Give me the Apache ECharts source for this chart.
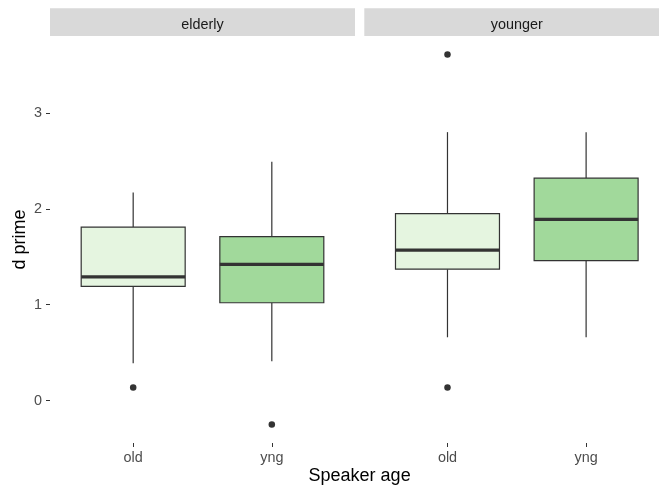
<!DOCTYPE html>
<html>
<head>
<meta charset="utf-8">
<script src="https://cdn.jsdelivr.net/npm/echarts@6/dist/echarts.min.js"></script>
<style>html,body{margin:0;padding:0;background:#fff;}#c{width:659px;height:487px;}</style>
</head>
<body>
<div id="c"></div>
<script>
// ---- data ----
const facets = ['elderly', 'younger'];
const categories = ['old', 'yng'];
// [lower whisker, Q1, median, Q3, upper whisker]
const elderlyStats = [[0.39, 1.19, 1.29, 1.81, 2.17], [0.41, 1.02, 1.42, 1.71, 2.49]];
const youngerStats = [[0.66, 1.37, 1.57, 1.95, 2.80], [0.66, 1.46, 1.89, 2.32, 2.80]];
// outliers: [category index, value]
const elderlyOutliers = [[0, 0.136], [1, -0.25]];
const youngerOutliers = [[0, 3.61], [0, 0.136]];
const yTicks = [0, 1, 2, 3];
const fills = ['#E5F5E0', '#A1D99B'];

const stats = [elderlyStats, youngerStats];
const outliers = [elderlyOutliers, youngerOutliers];

const FONT = 'Liberation Sans, Arial, Helvetica, sans-serif';
const CANVAS_W = 659;
const fullW = 305;          // full facet panel width (right one is cut off by the image edge)
const panels = [{left: 50, width: fullW}, {left: 364.3, width: CANVAS_W - 364.3}];
const gridTop = 36, gridHeight = 407;
const yMin = -0.443, yMax = 3.803;
const xMin = 0.4, xSpan = 2.2;

const chart = echarts.init(document.getElementById('c'), null, {renderer: 'canvas'});

const grids = panels.map(p => ({left: p.left, width: p.width, top: gridTop, height: gridHeight, containLabel: false}));
const xAxes = panels.map((p, i) => ({
  type: 'value', gridIndex: i, min: xMin, max: xMin + xSpan * p.width / fullW,
  axisLine: {show: false, onZero: false}, splitLine: {show: false},
  axisTick: {show: true, customValues: [1, 2], length: 4, lineStyle: {color: '#333333', width: 1}},
  axisLabel: {show: true, customValues: [1, 2], margin: 8, color: '#4D4D4D', fontSize: 14.4, fontFamily: FONT,
    formatter: v => categories[Math.round(v) - 1] || ''}
}));
const yAxes = panels.map((p, i) => ({
  type: 'value', gridIndex: i, min: yMin, max: yMax,
  axisLine: {show: false, onZero: false}, splitLine: {show: false},
  axisTick: {show: i === 0, customValues: yTicks, length: 4, lineStyle: {color: '#333333', width: 1}},
  axisLabel: {show: i === 0, customValues: yTicks, margin: 8, color: '#4D4D4D', fontSize: 14.4, fontFamily: FONT},
  name: i === 0 ? 'd prime' : '', nameLocation: 'middle', nameGap: 21,
  nameTextStyle: {color: '#000', fontSize: 18, fontFamily: FONT}
}));

function renderBox(params, api) {
  const x = api.value(0);
  const ci = api.value(6);
  const lo = api.coord([x, api.value(1)]);
  const q1 = api.coord([x, api.value(2)]);
  const md = api.coord([x, api.value(3)]);
  const q3 = api.coord([x, api.value(4)]);
  const hi = api.coord([x, api.value(5)]);
  const half = api.size([0.75, 0])[0] / 2;
  const cx = lo[0];
  const stroke = '#333333';
  return {
    type: 'group',
    children: [
      {type: 'line', shape: {x1: cx, y1: hi[1], x2: cx, y2: q3[1]}, style: {stroke: stroke, lineWidth: 1.2}},
      {type: 'line', shape: {x1: cx, y1: q1[1], x2: cx, y2: lo[1]}, style: {stroke: stroke, lineWidth: 1.2}},
      {type: 'rect', shape: {x: cx - half, y: q3[1], width: half * 2, height: q1[1] - q3[1]},
        style: {fill: fills[ci], stroke: stroke, lineWidth: 1.2}},
      {type: 'line', shape: {x1: cx - half, y1: md[1], x2: cx + half, y2: md[1]}, style: {stroke: stroke, lineWidth: 3.2}}
    ]
  };
}

const series = [];
stats.forEach((st, i) => {
  series.push({
    type: 'custom', xAxisIndex: i, yAxisIndex: i,
    renderItem: renderBox,
    encode: {x: 0, y: [1, 2, 3, 4, 5]},
    data: st.map((s, ci) => [ci + 1, s[0], s[1], s[2], s[3], s[4], ci]),
    silent: true
  });
  series.push({
    type: 'scatter', xAxisIndex: i, yAxisIndex: i,
    symbolSize: 6.5, itemStyle: {color: '#333333', opacity: 1},
    data: outliers[i].map(o => [o[0] + 1, o[1]]),
    silent: true
  });
});

const graphic = [];
panels.forEach((p, i) => {
  graphic.push({type: 'rect', shape: {x: p.left, y: 8.3, width: fullW, height: 27.7}, style: {fill: '#D9D9D9'}, silent: true});
  graphic.push({type: 'text', x: p.left + fullW / 2, y: 25,
    style: {text: facets[i], fill: '#1A1A1A', font: '14.4px ' + FONT, align: 'center', verticalAlign: 'middle'}, silent: true});
});
graphic.push({type: 'text', x: 359.6, y: 476,
  style: {text: 'Speaker age', fill: '#000', font: '18px ' + FONT, align: 'center', verticalAlign: 'middle'}, silent: true});

chart.setOption({
  backgroundColor: '#ffffff',
  animation: false,
  grid: grids,
  xAxis: xAxes,
  yAxis: yAxes,
  series: series,
  graphic: graphic
});
</script>
</body>
</html>
